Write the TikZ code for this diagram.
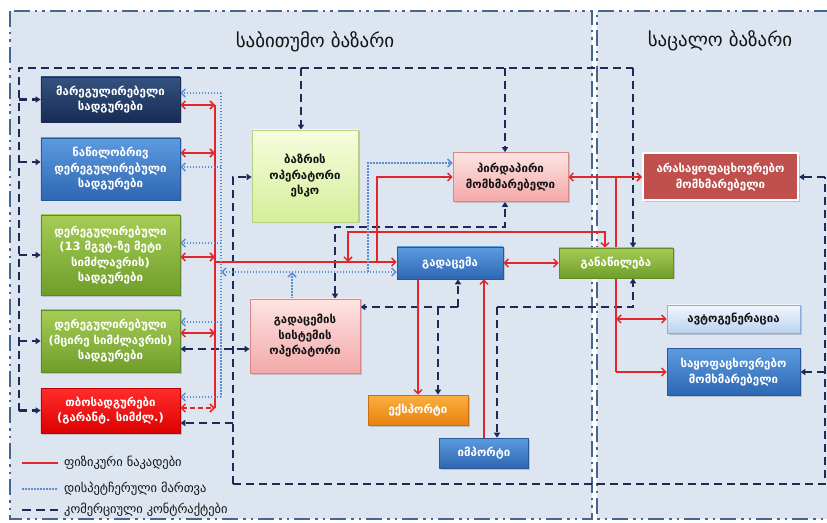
\documentclass[tikz,border=0pt]{standalone}
\usepackage{fontspec}
\setmainfont{DejaVu Sans}
\usetikzlibrary{arrows.meta,shadows,calc}
\pgfdeclarelayer{back}
\pgfdeclarelayer{lines}
\pgfsetlayers{back,lines,main}

\definecolor{regbg}{HTML}{DCE5F0}
\definecolor{regln}{HTML}{46668F}
\definecolor{navy}{HTML}{1C2A58}
\definecolor{phred}{HTML}{E3262B}
\definecolor{dispbl}{HTML}{5B8ED0}
\definecolor{darktxt}{HTML}{141414}

\tikzset{
  region/.style={draw=regln, line width=2.8bp, dash pattern=on 16bp off 5bp on 2.5bp off 5bp on 2.5bp off 5bp},
  box/.style={rectangle, align=center, inner sep=1bp, line width=0.6bp,
    font=\bfseries\fontsize{11.5}{15.5}\selectfont,
    drop shadow={opacity=0.35, shadow xshift=1.5bp, shadow yshift=-1.5bp}},
  navybox/.style={box, text=white, top color={rgb,255:red,52;green,82;blue,128}, bottom color={rgb,255:red,24;green,44;blue,84}, draw=navy},
  bluebox/.style={box, text=white, top color={rgb,255:red,92;green,155;blue,224}, bottom color={rgb,255:red,46;green,102;blue,178}, draw={rgb,255:red,40;green,88;blue,156}},
  greenbox/.style={box, text=white, top color={rgb,255:red,166;green,204;blue,85}, bottom color={rgb,255:red,110;green,158;blue,42}, draw={rgb,255:red,95;green,138;blue,37}},
  redbox/.style={box, text=white, top color={rgb,255:red,255;green,45;blue,45}, bottom color={rgb,255:red,222;green,0;blue,0}, draw={rgb,255:red,190;green,0;blue,0}},
  orangebox/.style={box, text=white, top color={rgb,255:red,251;green,176;blue,64}, bottom color={rgb,255:red,232;green,130;blue,15}, draw={rgb,255:red,200;green,112;blue,16}},
  lgreenbox/.style={box, text=darktxt, top color={rgb,255:red,246;green,253;blue,222}, bottom color={rgb,255:red,214;green,238;blue,154}, draw={rgb,255:red,184;green,208;blue,128}},
  pinkbox/.style={box, text=darktxt, top color={rgb,255:red,253;green,228;blue,228}, bottom color={rgb,255:red,244;green,168;blue,168}, draw={rgb,255:red,214;green,136;blue,136}},
  dredbox/.style={box, text=white, fill={rgb,255:red,192;green,80;blue,77}, draw=white, line width=2bp},
  lbluebox/.style={box, text=darktxt, top color={rgb,255:red,242;green,247;blue,253}, bottom color={rgb,255:red,186;green,210;blue,240}, draw={rgb,255:red,138;green,174;blue,216}},
  phys/.style={draw=phred, line width=1.5bp},
  disp/.style={draw=dispbl, line width=1.5bp, dash pattern=on 1.5bp off 1.5bp},
  comm/.style={draw=navy, line width=2.4bp, dash pattern=on 8bp off 5bp},
  pa/.style={-{Straight Barb[length=4bp,width=8bp]}},
  pab/.style={{Straight Barb[length=4bp,width=8bp]}-{Straight Barb[length=4bp,width=8bp]}},
  ca/.style={-{Triangle[length=5bp,width=6bp]}},
  cab/.style={{Triangle[length=5bp,width=6bp]}-{Triangle[length=5bp,width=6bp]}},
  title/.style={font=\fontsize{19}{22}\selectfont, text=darktxt},
  lgtext/.style={font=\fontsize{12.5}{14}\selectfont, text=darktxt, anchor=west, inner sep=1bp}
}

\begin{document}
\begin{tikzpicture}[x=1bp, y=-1bp]
\useasboundingbox (0,0) rectangle (827,523);

% ---------- regions ----------
\begin{pgfonlayer}{back}
  \fill[white] (0,0) rectangle (827,523);
  \fill[regbg] (10,11) rectangle (592,519);
  \draw[region] (10,11) rectangle (592,519);
  \fill[regbg] (597,11) rectangle (827,519);
  \draw[region] (830,11) -- (597,11) -- (597,519) -- (830,519);
\end{pgfonlayer}

\node[title] (t1) at (315,42) {საბითუმო ბაზარი};
\node[title] (t2) at (720,41) {საცალო ბაზარი};

% ---------- boxes ----------
\node[navybox, minimum width=139bp, minimum height=45bp] (b1) at (110.5,99.5) {მარეგულირებელი\\სადგურები};
\node[bluebox, minimum width=139bp, minimum height=62bp] (b2) at (110.5,169) {ნაწილობრივ\\დერეგულირებული\\სადგურები};
\node[greenbox, minimum width=139bp, minimum height=80bp] (b3) at (110.5,255) {დერეგულირებული\\(13 მგვტ-ზე მეტი\\სიმძლავრის)\\სადგურები};
\node[greenbox, minimum width=139bp, minimum height=62bp] (b4) at (110.5,341) {დერეგულირებული\\(მცირე სიმძლავრის)\\სადგურები};
\node[redbox, minimum width=139bp, minimum height=45bp] (b5) at (110.5,410.5) {თბოსადგურები\\(გარანტ. სიმძლ.)};

\node[lgreenbox, minimum width=106bp, minimum height=92bp] (mo) at (305,176) {ბაზრის\\ოპერატორი\\ესკო};
\node[pinkbox, minimum width=115bp, minimum height=49bp] (dc) at (510.5,177) {პირდაპირი\\მომხმარებელი};
\node[bluebox, minimum width=106bp, minimum height=32bp] (tr) at (450,263) {გადაცემა};
\node[pinkbox, minimum width=110bp, minimum height=74bp] (tso) at (305,336) {გადაცემის\\სისტემის\\ოპერატორი};
\node[greenbox, minimum width=114bp, minimum height=30bp] (di) at (616,263) {განაწილება};
\node[orangebox, minimum width=100bp, minimum height=30bp] (ex) at (418,410) {ექსპორტი};
\node[bluebox, minimum width=89bp, minimum height=30bp] (im) at (484,453) {იმპორტი};
\node[dredbox, minimum width=155bp, minimum height=47bp] (nh) at (720.5,177) {არასაყოფაცხოვრებო\\მომხმარებელი};
\node[lbluebox, minimum width=133bp, minimum height=28bp] (ag) at (733.5,319) {ავტოგენერაცია};
\node[bluebox, minimum width=133bp, minimum height=47bp] (hh) at (733.5,372) {საყოფაცხოვრებო\\მომხმარებელი};

% ---------- helper coordinates ----------
\coordinate (cL) at (19,68);
\coordinate (cT) at (633,68);
\coordinate (d1) at (301,68);
\coordinate (d2) at (505,68);
\coordinate (cC) at (233,177);
\coordinate (cB) at (233,484);
\coordinate (cBR) at (825,484);
\coordinate (cR) at (825,177);
\coordinate (y162) at (0,162);
\coordinate (y349) at (0,349);
\coordinate (y423) at (0,423);
\coordinate (tp) at (335,227);
\coordinate (yA) at (0,307);
\coordinate (xA1) at (438,0);
\coordinate (xA2) at (458,0);
\coordinate (xB) at (497,307);
\coordinate (xB2) at (633,307);
\coordinate (rT) at (215,105);
\coordinate (rB) at (215,408);
\coordinate (y153) at (0,153);
\coordinate (y257) at (0,257);
\coordinate (y333) at (0,333);
\coordinate (yTr) at (0,262);
\coordinate (r2a) at (348,232);
\coordinate (r2b) at (605,232);
\coordinate (r3) at (377,177);
\coordinate (dT) at (221,93);
\coordinate (dB) at (221,397);
\coordinate (y167) at (0,167);
\coordinate (y243) at (0,243);
\coordinate (y322) at (0,322);
\coordinate (yD) at (0,272);
\coordinate (xD2) at (292,0);
\coordinate (dd) at (368,163);

\begin{pgfonlayer}{lines}
% ---------- commercial contracts ----------
\draw[comm] (cL |- b5.west) -- (cL) -- (cT);
\draw[comm, ca] (cT) -- (cT |- di.north);
\draw[comm, ca] (cL |- b1.west) -- (b1.west);
\draw[comm, ca] (cL |- y162) -- (b2.west |- y162);
\draw[comm, ca] (cL |- b3.west) -- (b3.west);
\draw[comm, ca] (cL |- b4.west) -- (b4.west);
\draw[comm, ca] (cL |- b5.west) -- (b5.west);
\draw[comm, ca] (d1) -- (d1 |- mo.north);
\draw[comm, ca] (d2) -- (d2 |- dc.north);
\draw[comm, ca] (cB) -- (cC) -- (cC -| mo.west);
\draw[comm] (cB) -- (cBR) -- (cR);
\draw[comm, ca] (cR) -- (cR -| nh.east);
\draw[comm, ca] (cBR |- hh.east) -- (hh.east);
\draw[comm, cab] (b4.east |- y349) -- (tso.west |- y349);
\draw[comm, ca] (cC |- y423) -- (b5.east |- y423);
\draw[comm, cab] (tp |- tso.north) -- (tp) -- (tp -| d2) -- (d2 |- dc.south);
\draw[comm, ca] (xA2 |- yA) -- (tso.east |- yA);
\draw[comm, ca] (xA2 |- yA) -- (xA2 |- tr.south);
\draw[comm, ca] (xA1 |- yA) -- (xA1 |- ex.north);
\draw[comm, ca] (xB) -- (xB |- im.north);
\draw[comm, ca] (xB) -- (xB2) -- (xB2 |- di.south);

% ---------- physical flows ----------
\draw[phys] (rT) -- (rB);
\draw[phys, pab] (b1.east |- rT) -- (rT);
\draw[phys, pab] (b2.east |- y153) -- (rT |- y153);
\draw[phys, pab] (b3.east |- y257) -- (rT |- y257);
\draw[phys, pab] (b4.east |- y333) -- (rT |- y333);
\draw[phys, pab, dash pattern=on 5bp off 3bp] (b5.east |- rB) -- (rB);
\draw[phys, pa] (rT |- yTr) -- (tr.west |- yTr);
\draw[phys, pab] (r2a |- yTr) -- (r2a) -- (r2b) -- (r2b |- di.north);
\draw[phys, pa] (r3 |- yTr) -- (r3) -- (dc.west);
\draw[phys, pab] (tr.east) -- (di.west);
\draw[phys, pa] (tr.south -| ex.north) -- (ex.north);
\draw[phys, pa] (im.north) -- (im.north |- tr.south);
\draw[phys, pab] (dc.east) -- (dc.east -| nh.west);
\draw[phys] (di.center |- dc.east) -- (di.center |- hh.west);
\draw[phys, pab] (di.center |- ag.west) -- (ag.west);
\draw[phys, pa] (di.center |- hh.west) -- (hh.west);

% ---------- dispatch control ----------
\draw[disp] (dT) -- (dB);
\draw[disp, pa] (dT) -- (b1.east |- dT);
\draw[disp, pa] (dT |- y167) -- (b2.east |- y167);
\draw[disp, pa] (dT |- y243) -- (b3.east |- y243);
\draw[disp, pa] (dT |- y322) -- (b4.east |- y322);
\draw[disp, pa] (dB) -- (b5.east |- dB);
\draw[disp, pab] (dT |- yD) -- (tr.west |- yD);
\draw[disp, pa] (xD2 |- tso.north) -- (xD2 |- yD);
\draw[disp, pa] (dd |- yD) -- (dd) -- (dd -| dc.west);
\end{pgfonlayer}

% ---------- legend ----------
\coordinate (L1) at (22,463);
\coordinate (L1e) at (58,463);
\coordinate (L2) at (22,489);
\coordinate (L2e) at (58,489);
\coordinate (L3) at (22,510);
\coordinate (L3e) at (58,510);
\draw[phys] (L1) -- (L1e);
\draw[disp] (L2) -- (L2e);
\draw[comm, dash pattern=on 9bp off 5bp] (L3) -- (L3e);
\node[lgtext] (lg1) at ($(L1e)+(5,0)$) {ფიზიკური ნაკადები};
\node[lgtext] (lg2) at ($(L2e)+(5,0)$) {დისპეტჩერული მართვა};
\node[lgtext] (lg3) at ($(L3e)+(5,0)$) {კომერციული კონტრაქტები};
\end{tikzpicture}
\end{document}
